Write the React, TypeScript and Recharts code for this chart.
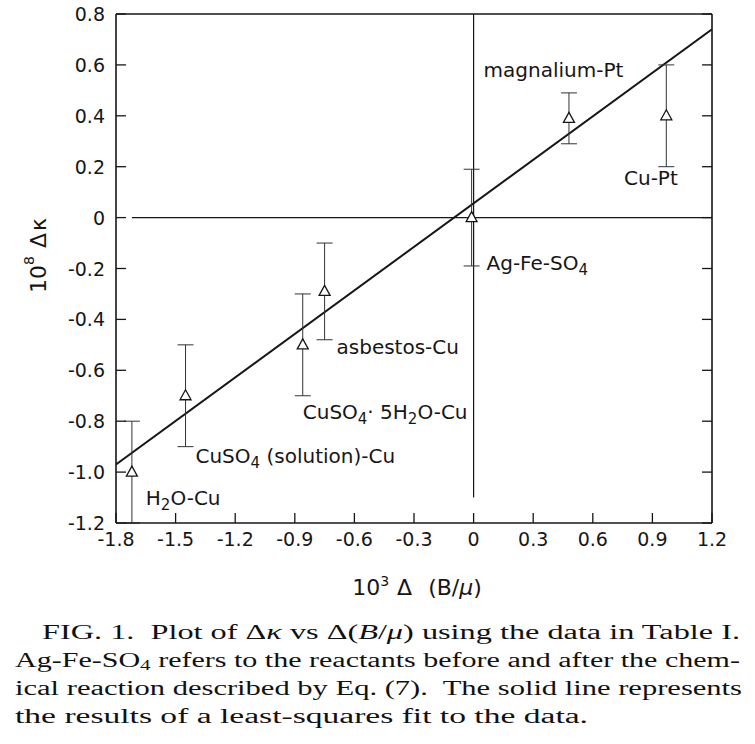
import React from 'react'
import { ComposedChart, Scatter, Line, XAxis, YAxis, ErrorBar, ReferenceLine } from 'recharts'

// measured samples, 10^3 Δ(B/μ) vs 10^8 Δκ
const samples = ['H_2O-Cu', 'CuSO_4 (solution)-Cu', 'CuSO_4· 5H_2O-Cu', 'asbestos-Cu', 'Ag-Fe-SO_4', 'magnalium-Pt', 'Cu-Pt']
const deltaB = [-1.72, -1.45, -0.86, -0.75, -0.01, 0.48, 0.97]
const deltaKappa = [-1.0, -0.7, -0.5, -0.29, 0.0, 0.39, 0.4]
const kappaErr = [0.2, 0.2, 0.2, 0.19, 0.19, 0.1, 0.2]

// where each sample name sits (data coords, left edge / middle of text)
const labelX = [-1.65, -1.4, -0.86, -0.69, 0.065, 0.05, 0.757]
const labelY = [-1.1, -0.935, -0.765, -0.51, -0.18, 0.58, 0.156]

// least-squares line, end points
const fitX = [-1.8, 1.2]
const fitY = [-0.97, 0.74]

const xTicks = [-1.8, -1.5, -1.2, -0.9, -0.6, -0.3, 0, 0.3, 0.6, 0.9, 1.2]
const xTickLabels = ['-1.8', '-1.5', '-1.2', '-0.9', '-0.6', '-0.3', '0', '0.3', '0.6', '0.9', '1.2']
const yTicks = [-1.2, -1.0, -0.8, -0.6, -0.4, -0.2, 0, 0.2, 0.4, 0.6, 0.8]
const yTickLabels = ['-1.2', '-1.0', '-0.8', '-0.6', '-0.4', '-0.2', '0', '0.2', '0.4', '0.6', '0.8']

// zero lines of the figure
const zeroH = { x1: -1.72, x2: 1.2 }
const zeroV = { y1: 0.8, y2: -1.1 }

const points = samples.map((s, i) => ({ x: deltaB[i], y: deltaKappa[i], err: kappaErr[i] }))
const labels = samples.map((s, i) => ({ x: labelX[i], y: labelY[i], text: s }))
const fitLine = fitX.map((x, i) => ({ x, y: fitY[i] }))

const FONT = '"DejaVu Sans", sans-serif'
const INK = '#161616'
const TICK_LEN = 10

function Triangle(props: any) {
  const { cx, cy } = props
  if (cx == null || cy == null) return null
  return (
    <polygon
      points={`${cx},${cy - 6} ${cx - 5.5},${cy + 4} ${cx + 5.5},${cy + 4}`}
      fill="#fff"
      stroke={INK}
      strokeWidth={1.3}
    />
  )
}

function SampleLabel(props: any) {
  const { cx, cy, payload } = props
  if (cx == null || cy == null) return null
  const parts: string[] = payload.text.split(/_(\d)/)
  const spans: React.ReactNode[] = []
  let shifted = false
  parts.forEach((p, i) => {
    if (p === '') return
    if (i % 2 === 1) {
      spans.push(<tspan key={i} dy={5} fontSize={15}>{p}</tspan>)
      shifted = true
    } else {
      spans.push(<tspan key={i} dy={shifted ? -5 : 0}>{p}</tspan>)
      shifted = false
    }
  })
  return (
    <text x={cx} y={cy + 7} fontFamily={FONT} fontSize={20} fill={INK} textAnchor="start">
      {spans}
    </text>
  )
}

// ticks of the figure point inwards on all four sides
function InTick(props: any) {
  const { x, y, payload, side } = props
  const stroke = { stroke: INK, strokeWidth: 1.3 }
  if (side === 'left') {
    const label = yTickLabels[yTicks.indexOf(payload.value)]
    return (
      <g>
        <line x1={x} x2={x + TICK_LEN} y1={y} y2={y} {...stroke} />
        <text x={x - 11} y={y} textAnchor="end" dominantBaseline="central" fontFamily={FONT} fontSize={19} fill={INK}>
          {label}
        </text>
      </g>
    )
  }
  if (side === 'bottom') {
    const label = xTickLabels[xTicks.indexOf(payload.value)]
    return (
      <g>
        <line x1={x} x2={x} y1={y} y2={y - TICK_LEN} {...stroke} />
        <text x={x} y={y + 16} textAnchor="middle" dominantBaseline="central" fontFamily={FONT} fontSize={19} fill={INK}>
          {label}
        </text>
      </g>
    )
  }
  if (side === 'top') return <line x1={x} x2={x} y1={y} y2={y + TICK_LEN} {...stroke} />
  return <line x1={x} x2={x - TICK_LEN} y1={y} y2={y} {...stroke} />
}

function YTitle(props: any) {
  const vb = props.viewBox || { x: 0, y: 0, width: 0, height: 0 }
  const cx = vb.x + 38
  const cy = vb.y + vb.height / 2 - 13
  return (
    <text x={cx} y={cy} transform={`rotate(-90, ${cx}, ${cy})`} textAnchor="middle" dominantBaseline="central"
      fontFamily={FONT} fontSize={22} fill={INK}>
      <tspan>10</tspan>
      <tspan dy={-9} fontSize={14}>8</tspan>
      <tspan dy={9} dx={8}>Δ</tspan>
      <tspan dx={2}>κ</tspan>
    </text>
  )
}

function XTitle(props: any) {
  const vb = props.viewBox || { x: 0, y: 0, width: 0, height: 0 }
  const cx = vb.x + vb.width / 2 + 3
  const cy = vb.y + 72
  return (
    <text x={cx} y={cy} textAnchor="middle" fontFamily={FONT} fontSize={22} fill={INK}>
      <tspan>10</tspan>
      <tspan dy={-9} fontSize={14}>3</tspan>
      <tspan dy={9} dx={8}>Δ</tspan>
      <tspan dx={16}>(B/</tspan>
      <tspan fontStyle="italic">μ</tspan>
      <tspan>)</tspan>
    </text>
  )
}

function Caption() {
  const serif = '"Liberation Serif", "Times New Roman", serif'
  return (
    <svg width={755} height={144} style={{ position: 'absolute', left: 0, top: 600 }}>
      <g fontFamily={serif} fontSize={20} fill="#111">
        <text x={42} y={39} textLength={698} lengthAdjust="spacingAndGlyphs">
          {'FIG. 1.\u00a0 Plot of Δ'}<tspan fontStyle="italic">κ</tspan>{' vs Δ('}<tspan fontStyle="italic">B</tspan>/<tspan fontStyle="italic">μ</tspan>) using the data in Table I.
        </text>
        <text x={15} y={67} textLength={725} lengthAdjust="spacingAndGlyphs">
          Ag-Fe-SO<tspan fontSize={14} dy={3}>4</tspan><tspan dy={-3}> refers to the reactants before and after the chem-</tspan>
        </text>
        <text x={15} y={95} textLength={727} lengthAdjust="spacingAndGlyphs">
          {'ical reaction described by Eq. (7).\u00a0 The solid line represents'}
        </text>
        <text x={15} y={123} textLength={573} lengthAdjust="spacingAndGlyphs">
          the results of a least-squares fit to the data.
        </text>
      </g>
    </svg>
  )
}

const axisLine = { stroke: INK, strokeWidth: 1.6 }

export default function App() {
  return (
    <div style={{ position: 'absolute', left: 0, top: 0, width: 755, height: 744, background: '#fff' }}>
      <ComposedChart width={755} height={600} margin={{ top: 13, right: 42, bottom: 17, left: 0 }}>
        <XAxis
          dataKey="x"
          type="number"
          domain={[-1.8, 1.2]}
          ticks={xTicks}
          interval={0}
          allowDataOverflow
          height={60}
          tickSize={0.01}
          tickMargin={0}
          tickLine={false}
          tick={<InTick side="bottom" />}
          axisLine={axisLine}
          label={<XTitle />}
        />
        <XAxis
          xAxisId="top"
          orientation="top"
          type="number"
          domain={[-1.8, 1.2]}
          ticks={xTicks}
          interval={0}
          allowDataOverflow
          height={1}
          tickSize={0.01}
          tickMargin={0}
          tickLine={false}
          tick={<InTick side="top" />}
          axisLine={axisLine}
        />
        <YAxis
          type="number"
          domain={[-1.2, 0.8]}
          ticks={yTicks}
          interval={0}
          allowDataOverflow
          width={116}
          tickSize={0.01}
          tickMargin={0}
          tickLine={false}
          tick={<InTick side="left" />}
          axisLine={axisLine}
          label={<YTitle />}
        />
        <YAxis
          yAxisId="right"
          orientation="right"
          type="number"
          domain={[-1.2, 0.8]}
          ticks={yTicks}
          interval={0}
          allowDataOverflow
          width={1}
          tickSize={0.01}
          tickMargin={0}
          tickLine={false}
          tick={<InTick side="right" />}
          axisLine={axisLine}
        />
        <ReferenceLine
          segment={[{ x: zeroH.x1, y: 0 }, { x: zeroH.x2, y: 0 }]}
          stroke={INK}
          strokeWidth={1.2}
          ifOverflow="visible"
        />
        <ReferenceLine
          segment={[{ x: 0, y: zeroV.y1 }, { x: 0, y: zeroV.y2 }]}
          stroke={INK}
          strokeWidth={1.2}
          ifOverflow="visible"
        />
        <Line
          data={fitLine}
          dataKey="y"
          type="linear"
          stroke={INK}
          strokeWidth={2}
          dot={false}
          activeDot={false}
          isAnimationActive={false}
        />
        <Scatter data={points} dataKey="y" shape={<Triangle />} isAnimationActive={false}>
          <ErrorBar dataKey="err" direction="y" width={8} stroke="#333" strokeWidth={1} />
        </Scatter>
        <Scatter data={labels} dataKey="y" shape={<SampleLabel />} isAnimationActive={false} />
      </ComposedChart>
      <Caption />
    </div>
  )
}
